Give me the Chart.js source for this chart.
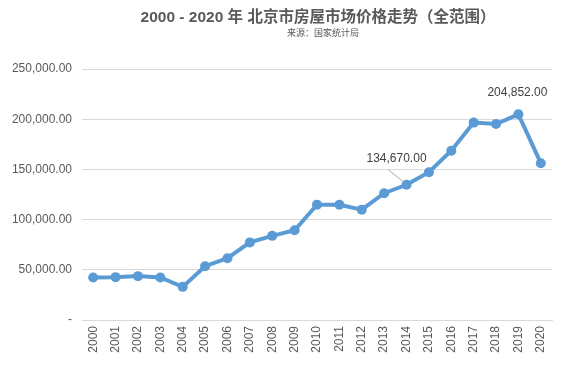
<!DOCTYPE html>
<html><head><meta charset="utf-8">
<script src="https://cdn.jsdelivr.net/npm/chart.js@4/dist/chart.umd.min.js"></script>
<style>html,body{margin:0;padding:0;background:#fff}#wrap{width:570px;height:371px}</style>
</head><body><div id="wrap"><canvas id="c" width="570" height="371"></canvas></div>
<script>
const titleText = '2000 - 2020 年 北京市房屋市场价格走势（全范围）';
const subtitleText = '来源：国家统计局';
const years = ['2000','2001','2002','2003','2004','2005','2006','2007','2008','2009','2010','2011','2012','2013','2014','2015','2016','2017','2018','2019','2020'];
const prices = [42300,42700,43700,42400,33000,53600,61500,77300,83800,89400,114900,114800,109900,126300,134670,147200,168600,196600,195200,204852,156200];

const fmt = v => v.toLocaleString('en-US',{minimumFractionDigits:2,maximumFractionDigits:2});

const overlay = {
  id:'overlay',
  afterDraw(chart){
    const ctx = chart.ctx, ca = chart.chartArea;
    const cx = (ca.left+ca.right)/2;
    ctx.save();
    ctx.fillStyle='#595959';
    ctx.textAlign='center'; ctx.textBaseline='middle';
    ctx.font='bold 15.5px "Liberation Sans","Noto Sans CJK SC"';
    ctx.fillText(titleText, cx+1, 18);
    ctx.font='9px "Noto Sans CJK SC"';
    ctx.fillText(subtitleText, cx+6, 33);
    const meta = chart.getDatasetMeta(0);
    ctx.font='12px "Liberation Sans"';
    ctx.fillStyle='#404040';
    let p = meta.data[14];
    ctx.fillText(fmt(prices[14]), p.x-10, p.y-26);
    ctx.strokeStyle='#a6a6a6'; ctx.lineWidth=1;
    ctx.beginPath(); ctx.moveTo(p.x-18, p.y-15); ctx.lineTo(p.x-2, p.y-2); ctx.stroke();
    p = meta.data[19];
    ctx.fillText(fmt(prices[19]), p.x-1, p.y-22);
    ctx.restore();
  }
};

new Chart(document.getElementById('c'),{
  type:'line',
  data:{labels:years,datasets:[{data:prices,borderColor:'#5B9BD5',backgroundColor:'#5B9BD5',borderWidth:4,pointRadius:5,pointHoverRadius:5,pointBackgroundColor:'#5B9BD5',pointBorderWidth:0,tension:0}]},
  options:{
    responsive:false,animation:false,
    layout:{padding:{top:69,right:18,bottom:6,left:0}},
    plugins:{legend:{display:false},title:{display:false},tooltip:{enabled:false}},
    scales:{
      x:{offset:true,grid:{display:false,drawTicks:false},border:{color:'#d9d9d9',width:1},
        ticks:{color:'#595959',font:{family:'Liberation Sans',size:12},minRotation:90,maxRotation:90,padding:6},
        afterFit(s){s.height=45;}},
      y:{min:0,max:250000,grid:{color:'#d9d9d9',drawTicks:false},border:{display:false},
        ticks:{stepSize:50000,color:'#595959',font:{family:'Liberation Sans',size:12},padding:10,
          callback:v=> v===0?'-':fmt(v)},
        afterFit(s){s.width=82;}}
    }
  },
  plugins:[overlay]
});
</script></body></html>
